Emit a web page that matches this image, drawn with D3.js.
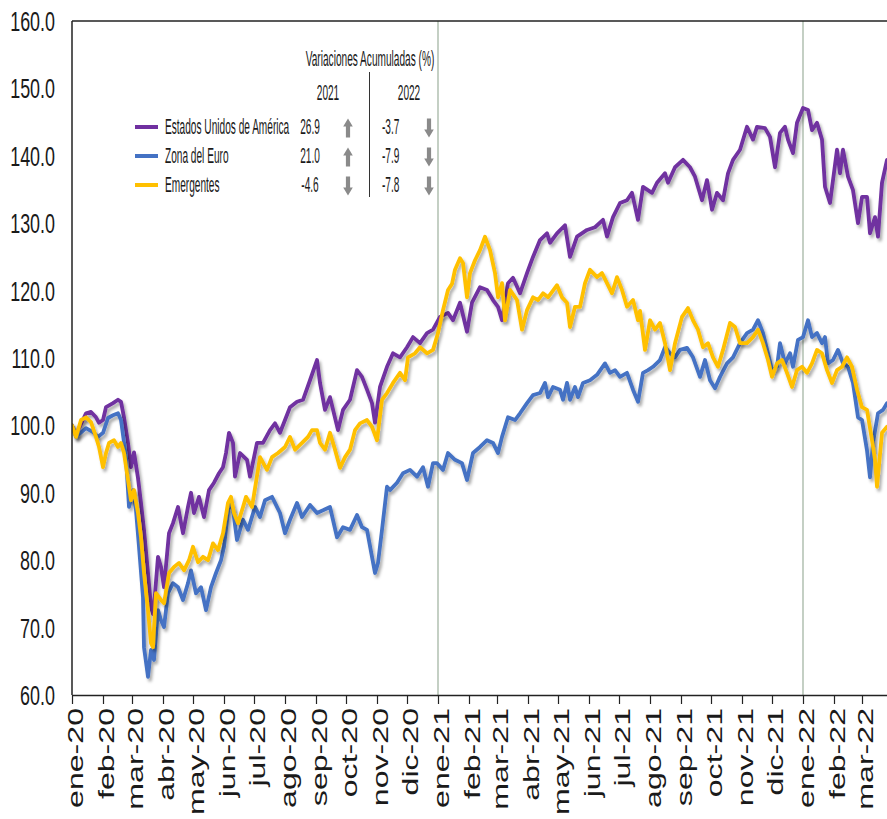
<!DOCTYPE html>
<html><head><meta charset="utf-8">
<script src="https://cdn.jsdelivr.net/npm/d3@7"></script>
<style>
body{margin:0;background:#fff}
svg{display:block}
text{font-family:"Liberation Sans",Arial,sans-serif;fill:#1a1a1a}
</style>
</head><body>
<svg id="chart" width="887" height="819"></svg>
<script>
// ---------------- DATA ----------------
const startDate = new Date(2020, 0, 1);   // day 0
const lastDay = 815;                      // right edge of plot (days after start)
const monthAbbr = ["ene","feb","mar","abr","may","jun","jul","ago","sep","oct","nov","dic"];
const yTicks = [60,70,80,90,100,110,120,130,140,150,160];
const yearLines = ["2021-01-01","2022-01-01"];

const seriesNames = ["Estados Unidos de América","Zona del Euro","Emergentes"];
const var2021 = [26.9, 21.0, -4.6];
const var2022 = [-3.7, -7.9, -7.8];

// days after 2020-01-01 and index values (base 100)
const usDays = [0,4,14,19,24,27,31,34,41,46,49,52,56,59,62,66,69,72,76,79,81,83,86,89,92,97,101,106,111,116,119,122,127,132,137,142,147,151,154,157,161,163,168,175,178,185,191,198,203,208,218,225,231,238,245,248,253,258,266,271,278,285,290,295,300,303,308,315,321,328,335,341,348,355,361,368,376,381,388,395,400,408,415,421,426,430,436,441,448,455,461,468,475,478,485,493,498,505,515,523,531,535,541,548,555,560,566,571,580,585,593,596,603,611,618,623,630,635,640,645,651,656,661,668,675,681,685,693,698,703,708,713,716,721,725,731,736,740,745,750,753,758,765,768,771,776,781,786,790,795,798,803,806,810,815];
const usValues = [100,98.6,101.8,102,101.2,100.4,100.8,102.7,103.3,103.8,103.5,101.2,97.4,93.8,96,92.2,88.5,84.5,78.1,73.1,72,75,80.5,79,76,84,85.5,87.9,84,87.9,90,87,89.4,86.4,90.4,91.5,92.9,93.8,95.9,98.9,97.4,92.4,95.9,94.9,92.4,97.4,97.4,99.3,100.3,98.9,102.7,103.5,103.8,106.7,109.7,106.3,102.3,104.2,99.3,102.3,103.8,108.2,107.2,105.3,103.3,100.4,105.7,108.7,110.7,110.1,111.6,113.1,112.2,113.7,114.2,116.1,116.7,115.6,118.2,113.9,118.2,120.5,120.1,118.6,117.6,115.6,121.1,121.9,119.6,122.6,125,127.5,128.5,127.1,128.5,129.7,125,128,129,129.4,130.5,128,130.9,133,133.4,134.5,130.5,135.4,134.5,136,137.4,136,138.3,139.4,138.3,136.9,133.4,136.4,132,134.5,133.4,137.4,139.4,140.9,144.3,142.4,144.3,144.1,142.8,138.3,143.4,144.3,142.4,140.4,144.9,147.1,146.8,143.8,144.9,142.4,135.4,133,140.9,137.4,140.9,136.9,134.9,130,133.9,133.9,128.5,130.9,128,136,139.4];

const euDays = [0,4,14,21,26,31,36,41,46,49,54,57,61,64,67,71,72,76,79,82,86,89,92,96,101,106,111,116,119,124,129,134,139,144,149,152,157,161,165,171,176,183,188,193,200,203,208,213,218,225,230,238,245,251,258,265,271,278,285,290,295,300,303,306,310,315,318,325,331,338,345,351,356,361,365,371,376,383,390,395,401,408,415,421,426,430,436,443,448,455,461,468,473,476,481,488,491,495,498,503,506,511,518,525,533,538,543,548,555,561,566,571,576,581,588,593,598,603,608,615,621,628,633,638,643,648,655,661,668,675,681,686,691,696,700,705,708,713,718,721,726,731,736,740,745,750,753,756,761,766,771,776,781,786,790,795,798,801,806,811,815];
const euValues = [100,98.3,99.6,99,98.3,98.9,101.1,101.5,101.8,100.8,95.3,87.9,90.4,87.4,82,74.5,67.1,62.7,66.7,65.2,72.6,71.1,70.1,75.1,76.6,76,74.1,76.6,78.5,75.1,76,72.6,76,78.1,80,82,88.5,87.5,83,86,84.5,87.9,86.4,88.9,89.4,88.5,87,84,86,88.5,86.4,88.2,87,87.4,87.9,83.4,84.9,84.5,86.7,84.9,84.5,80.5,78.1,79.6,84.5,90.9,90.4,91.5,92.9,93.4,92.4,93.8,90.9,94.4,94.4,93.4,95.9,94.9,94.4,91.9,95.9,96.8,97.8,97.4,95.9,98.3,101.2,100.8,101.8,103.3,104.5,104.8,106.3,104.2,105.7,105.3,103.8,106.3,103.8,105.7,104.2,106.3,106.7,107.5,109.2,107.8,108.2,107.2,107.8,105.3,103.5,107.8,108.2,108.7,109.7,111.6,110.7,110.1,111.2,111.5,110.1,107.2,109.7,106.7,105.5,107.2,109.2,110.1,112.2,113.7,114.2,115.6,113.7,110.7,108.2,108.7,112.2,109.2,110.7,108.7,112.7,113.1,115.6,113.1,113.7,112.2,113.1,109.2,109.7,111.2,109.2,108.7,106.3,101.2,100.8,96.3,92.3,97.4,101.8,102.3,103.3];

const emDays = [0,4,9,14,19,24,27,31,34,37,42,46,49,52,56,59,62,66,69,72,76,79,81,84,89,92,97,102,107,112,117,121,126,131,136,141,146,151,156,159,162,166,171,174,180,188,195,200,206,213,218,223,230,236,240,245,248,253,258,263,268,273,278,283,288,295,300,305,310,315,321,328,333,336,343,348,355,361,366,371,376,380,383,388,391,395,398,403,408,413,418,423,426,430,433,438,445,450,455,461,466,471,476,485,490,495,498,503,508,513,518,525,530,535,540,545,550,555,561,566,568,573,578,583,588,593,598,603,610,616,621,626,631,636,641,646,651,658,663,668,675,681,686,691,696,700,705,710,715,720,725,730,735,740,745,750,755,760,765,770,775,780,785,790,795,800,803,805,810,815];
const emValues = [100,98.3,100.8,101.2,100.5,98.3,96.8,93.8,95.9,97.4,97.8,96.8,97.4,95.9,91.9,88.9,90.4,87,83.4,78.1,72.6,67.7,67.1,75.1,74.1,73.6,78.1,79,79.6,78.5,80,82,79.7,80.5,80,82.5,81.5,84,88.5,89.4,87,85.5,87.9,89.4,87.9,95.3,93.4,95.3,95.9,96.8,98.3,96.4,97.4,98.3,99.3,99.3,97.4,96.4,98.9,96.4,93.7,95.3,96.4,99.3,100.3,100.8,99.8,97.8,103.8,104.8,106.3,107.8,106.7,110.1,110.7,111.6,110.7,111.2,113.7,117.1,120.1,121,123.1,124.8,124.1,119,122.6,124.5,126,128,126,122.6,119,121.1,115.6,120.1,118.6,114.2,117.1,119,118.6,119.6,119,120.8,119,118.2,114.6,117.6,117.6,121.1,123.1,122,122.6,121.1,119.6,122,120.1,117.6,118.6,115.6,117,111.2,115.6,114.2,115.2,112.2,108.2,112.2,116.1,117.4,115.6,114.2,111.6,112.2,110.1,108.7,111.2,115.2,114.6,112.2,112.2,113.1,114.2,112.2,109.7,107.2,109.2,109.7,107.8,105.7,108.2,108.7,107.8,109.2,111.2,110.7,108.2,106.3,108.2,108.7,110.1,108.7,105.3,102.7,102.3,97.8,94.9,90.9,98.9,99.8];

// ---------------- LAYOUT / STYLE ----------------
const plot = {left: 72, right: 887, top: 21, bottom: 695};
const colors = ["#7030A0", "#4472C4", "#FFC000"];
const drawOrder = [0, 1, 2];

const svg = d3.select("#chart");
const defs = svg.append("defs");
const f = defs.append("filter").attr("id","shadow").attr("x","-5%").attr("y","-5%").attr("width","115%").attr("height","115%");
f.append("feDropShadow").attr("dx",2).attr("dy",3).attr("stdDeviation",1.6)
  .attr("flood-color","#000").attr("flood-opacity",0.33);
const fa = defs.append("filter").attr("id","soft");
fa.append("feGaussianBlur").attr("stdDeviation",0.6);
defs.append("clipPath").attr("id","clip").append("rect")
  .attr("x",plot.left).attr("y",plot.top-5).attr("width",plot.right-plot.left+5).attr("height",plot.bottom-plot.top+5);

const x = d3.scaleTime()
  .domain([startDate, d3.timeDay.offset(startDate, lastDay)])
  .range([plot.left, plot.right]);
const y = d3.scaleLinear().domain([60,160]).range([plot.bottom, plot.top]);

// year separator lines
svg.append("g").selectAll("line").data(yearLines.map(s => d3.timeParse("%Y-%m-%d")(s)))
  .join("line")
  .attr("x1", d => x(d)).attr("x2", d => x(d))
  .attr("y1", plot.top).attr("y2", plot.bottom)
  .attr("stroke", "#9db09d").attr("stroke-width", 1.2);

// series lines
const mkSeries = (days, vals) => days.map((d,i) => ({date: d3.timeDay.offset(startDate, d), v: vals[i]}));
const series = [mkSeries(usDays, usValues), mkSeries(euDays, euValues), mkSeries(emDays, emValues)];
const line = d3.line().x(d => x(d.date)).y(d => y(d.v));
const gl = svg.append("g").attr("clip-path","url(#clip)");
drawOrder.forEach(i => {
  gl.append("path").datum(series[i])
    .attr("d", line).attr("fill","none")
    .attr("stroke", colors[i]).attr("stroke-width", 3.8)
    .attr("stroke-linejoin","round").attr("stroke-linecap","round")
    .attr("filter","url(#shadow)");
});

// frame: top border and left axis
svg.append("line").attr("x1",plot.left).attr("x2",plot.right).attr("y1",plot.top).attr("y2",plot.top)
  .attr("stroke","#222").attr("stroke-width",1.5);
svg.append("line").attr("x1",plot.left).attr("x2",plot.left).attr("y1",plot.top).attr("y2",plot.bottom)
  .attr("stroke","#222").attr("stroke-width",1.5);

// y labels
svg.append("g").selectAll("text").data(yTicks).join("text")
  .attr("transform", d => `translate(55,${y(d)+10}) scale(0.64,1)`)
  .attr("text-anchor","end").attr("font-size",28)
  .text(d => d3.format(".1f")(d));

// x axis
const months = d3.timeMonth.range(startDate, d3.timeDay.offset(startDate, lastDay));
const xAxis = d3.axisBottom(x).tickValues(months).tickSize(9).tickSizeOuter(0).tickFormat("");
const gx = svg.append("g").attr("transform",`translate(0,${plot.bottom})`).call(xAxis);
gx.select(".domain").attr("stroke","#222").attr("stroke-width",1.5);
gx.selectAll(".tick line").attr("stroke","#222").attr("stroke-width",1.2);
svg.append("g").selectAll("text").data(months).join("text")
  .attr("transform", d => `translate(${x(d)+11},708) rotate(-90) scale(1.46,1)`)
  .attr("text-anchor","end").attr("font-size",22)
  .text(d => monthAbbr[d.getMonth()] + "-" + d3.timeFormat("%y")(d));

// ---------------- LEGEND ----------------
const lg = svg.append("g");
const ltext = (tx, ty, s, anchor) => lg.append("text")
  .attr("transform",`translate(${tx},${ty}) scale(0.46,1)`)
  .attr("text-anchor",anchor).attr("font-size",22).text(s);
ltext(370, 66, "Variaciones Acumuladas (%)", "middle");
ltext(328, 100, "2021", "middle");
ltext(409, 100, "2022", "middle");
lg.append("line").attr("x1",369.5).attr("x2",369.5).attr("y1",72).attr("y2",197)
  .attr("stroke","#333").attr("stroke-width",1);
const rowY = [126, 155, 184];
const arrow = (cx, cy, up) => {
  const h = 19, hw = 4.8, hh = 8, sw = 2.1;
  const t = cy - h/2, b = cy + h/2;
  const p = up
    ? `M${cx},${t} L${cx+hw},${t+hh} L${cx+sw},${t+hh} L${cx+sw},${b} L${cx-sw},${b} L${cx-sw},${t+hh} L${cx-hw},${t+hh} Z`
    : `M${cx},${b} L${cx+hw},${b-hh} L${cx+sw},${b-hh} L${cx+sw},${t} L${cx-sw},${t} L${cx-sw},${b-hh} L${cx-hw},${b-hh} Z`;
  lg.append("path").attr("d",p).attr("fill","#8a8a8a").attr("filter","url(#soft)");
};
seriesNames.forEach((name, i) => {
  const cy = rowY[i];
  lg.append("line").attr("x1",135).attr("x2",158).attr("y1",cy+1).attr("y2",cy+1)
    .attr("stroke",colors[i]).attr("stroke-width",4);
  ltext(165, cy+8, name, "start");
  ltext(310, cy+8, var2021[i].toFixed(1), "middle");
  arrow(348, cy+2, var2021[i] >= 0);
  ltext(382, cy+8, var2022[i].toFixed(1), "start");
  arrow(429, cy+2, var2022[i] >= 0);
});
</script>
</body></html>
